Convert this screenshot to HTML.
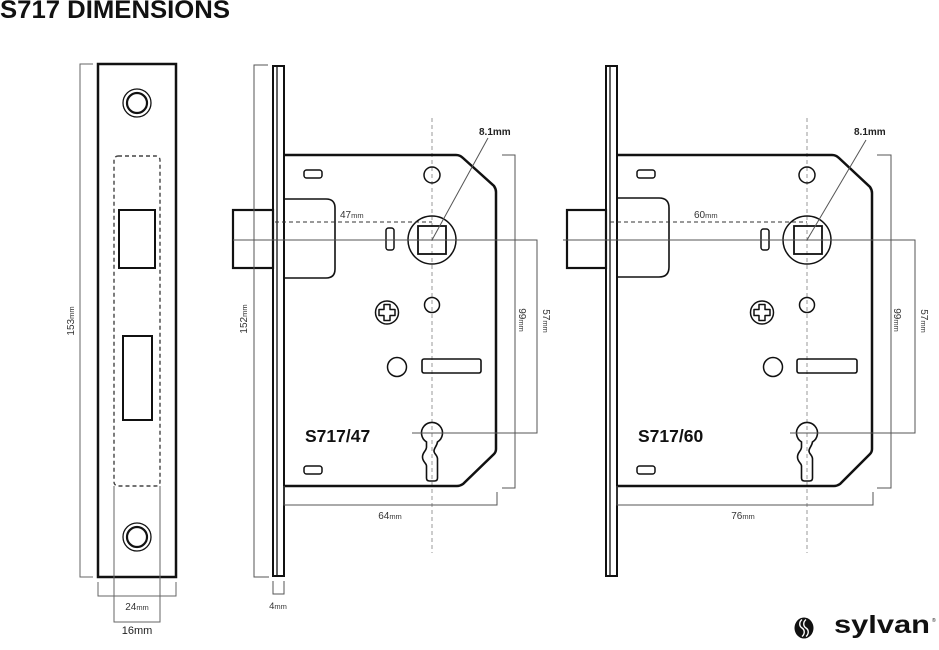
<!DOCTYPE html>
<html><head><meta charset="utf-8"><style>
html,body{margin:0;padding:0;background:#fff;}
svg{display:block;}
text{font-family:"Liberation Sans",Arial,sans-serif;}
</style></head><body>
<svg width="939" height="650" viewBox="0 0 939 650" xmlns="http://www.w3.org/2000/svg">
<rect width="939" height="650" fill="#fff"/>
<text x="0" y="18" font-size="25" font-weight="bold" fill="#111" textLength="230" lengthAdjust="spacingAndGlyphs">S717 DIMENSIONS</text>

<!-- ===== FACEPLATE ===== -->
<g fill="none" stroke="#111">
  <rect x="98" y="64" width="78" height="513" stroke-width="2.5"/>
  <circle cx="137" cy="103" r="14" stroke-width="1.3"/>
  <circle cx="137" cy="103" r="10" stroke-width="2.2"/>
  <circle cx="137" cy="537" r="14" stroke-width="1.3"/>
  <circle cx="137" cy="537" r="10" stroke-width="2.2"/>
  <rect x="114" y="156" width="46" height="330" rx="4" stroke="#444" stroke-width="1.4" stroke-dasharray="4 3"/>
  <rect x="119" y="210" width="36" height="58" stroke-width="2"/>
  <rect x="123" y="336" width="29" height="84" stroke-width="2"/>
</g>
<g fill="none" stroke="#666" stroke-width="1">
  <polyline points="93,64 80,64 80,577 93,577"/>
  <polyline points="98,582 98,596 176,596 176,582"/>
  <polyline points="114,486 114,622 160,622 160,486"/>
</g>
<text transform="translate(74,321) rotate(-90)" text-anchor="middle" font-size="10" fill="#333">153<tspan font-size="7.5">mm</tspan></text>
<text x="137" y="610" text-anchor="middle" font-size="10" fill="#333">24<tspan font-size="7.5">mm</tspan></text>
<text x="137" y="634" text-anchor="middle" font-size="11" fill="#222">16mm</text>

<!-- ===== MIDDLE LOCK S717/47 ===== -->
<line x1="432" y1="118" x2="432" y2="553" stroke="#999" stroke-width="1" stroke-dasharray="4 3"/>
<g fill="none" stroke="#111">
  <rect x="273" y="66" width="11" height="510" stroke-width="2"/>
  <line x1="277" y1="67" x2="277" y2="575" stroke-width="1.3"/>
  <rect x="233" y="210" width="40" height="58" stroke-width="2.2"/>
  <path d="M284,155 L456,155 Q460,155 463,158 L494,186 Q496,189 496,192 L496,449 Q496,452 494,454 L463,484 Q460,486 457,486 L284,486" stroke-width="2.5"/>
  <path d="M284,199 L326,199 Q335,199 335,208 L335,269 Q335,278 326,278 L284,278" stroke-width="1.6"/>
  <rect x="304" y="170" width="18" height="8" rx="2.5" stroke-width="1.5"/>
  <rect x="304" y="466" width="18" height="8" rx="2.5" stroke-width="1.5"/>
  <rect x="386" y="228" width="8" height="22" rx="2.5" stroke-width="1.5"/>
  <circle cx="432" cy="175" r="8" stroke-width="1.5"/>
  <circle cx="432" cy="305" r="7.5" stroke-width="1.5"/>
  <circle cx="432" cy="240" r="24" stroke-width="1.5"/>
  <rect x="418" y="226" width="28" height="28" stroke-width="1.8"/>
  <circle cx="387" cy="312.5" r="11.5" stroke-width="1.5"/>
  <path d="M384,304.5 L390,304.5 L390,309.5 L395,309.5 L395,315.5 L390,315.5 L390,320.5 L384,320.5 L384,315.5 L379,315.5 L379,309.5 L384,309.5 Z" stroke-width="1.5" stroke-linejoin="round"/>
  <circle cx="397" cy="367" r="9.5" stroke-width="1.5"/>
  <rect x="422" y="359" width="59" height="14" rx="2" stroke-width="1.6"/>
  <path d="M426.5,441.9 A10.5,10.5 0 1 1 437.5,441.9 C437,446 434,448 434,451 C434,454 437.5,455 437.5,459 L437.5,478 Q437.5,481 434.5,481 L429.5,481 Q426.5,481 426.5,478 L426.5,466 C426.5,463 422.5,462 422.5,457 C422.5,452 426.5,451 426.5,447 Z" stroke-width="1.6"/>
</g>
<line x1="275" y1="222" x2="432" y2="222" stroke="#333" stroke-width="1" stroke-dasharray="4 3"/>
<g fill="none" stroke="#555" stroke-width="1">
  <polyline points="233,240 537,240 537,433 412,433"/>
  <polyline points="502,155 515,155 515,488 502,488"/>
  <polyline points="284,486 284,505 497,505 497,492"/>
  <polyline points="268,65 254,65 254,577 269,577"/>
  <polyline points="273,581 273,594 284,594 284,581"/>
  <line x1="432" y1="240" x2="488" y2="138"/>
</g>
<text x="340" y="218" font-size="10" fill="#333">47<tspan font-size="7.5">mm</tspan></text>
<text x="479" y="135" font-size="10" font-weight="bold" fill="#222">8.1mm</text>
<text transform="translate(519,320) rotate(90)" text-anchor="middle" font-size="10" fill="#333">99<tspan font-size="7.5">mm</tspan></text>
<text transform="translate(543,321) rotate(90)" text-anchor="middle" font-size="10" fill="#333">57<tspan font-size="7.5">mm</tspan></text>
<text transform="translate(247,319) rotate(-90)" text-anchor="middle" font-size="10" fill="#333">152<tspan font-size="7.5">mm</tspan></text>
<text x="390" y="519" text-anchor="middle" font-size="10" fill="#333">64<tspan font-size="7.5">mm</tspan></text>
<text x="278" y="609" text-anchor="middle" font-size="9.5" fill="#333">4<tspan font-size="7.5">mm</tspan></text>
<text x="305" y="442" font-size="17.5" font-weight="bold" fill="#111">S717/47</text>

<!-- ===== RIGHT LOCK S717/60 ===== -->
<line x1="807" y1="118" x2="807" y2="553" stroke="#999" stroke-width="1" stroke-dasharray="4 3"/>
<g fill="none" stroke="#111">
  <rect x="606" y="66" width="11" height="510" stroke-width="2"/>
  <line x1="610" y1="67" x2="610" y2="575" stroke-width="1.3"/>
  <rect x="567" y="210" width="39" height="58" stroke-width="2.2"/>
  <path d="M617,155 L832,155 Q836,155 839,158 L870,187 Q872,190 872,193 L872,449 Q872,452 870,454 L840,484 Q837,486 834,486 L617,486" stroke-width="2.5"/>
  <path d="M617,198 L659,198 Q669,198 669,208 L669,267 Q669,277 659,277 L617,277" stroke-width="1.6"/>
  <rect x="637" y="170" width="18" height="8" rx="2.5" stroke-width="1.5"/>
  <rect x="637" y="466" width="18" height="8" rx="2.5" stroke-width="1.5"/>
  <rect x="761" y="229" width="8" height="21" rx="2.5" stroke-width="1.5"/>
  <circle cx="807" cy="175" r="8" stroke-width="1.5"/>
  <circle cx="807" cy="305" r="7.5" stroke-width="1.5"/>
  <circle cx="807" cy="240" r="24" stroke-width="1.5"/>
  <rect x="794" y="226" width="28" height="28" stroke-width="1.8"/>
  <circle cx="762" cy="312.5" r="11.5" stroke-width="1.5"/>
  <path d="M759,304.5 L765,304.5 L765,309.5 L770,309.5 L770,315.5 L765,315.5 L765,320.5 L759,320.5 L759,315.5 L754,315.5 L754,309.5 L759,309.5 Z" stroke-width="1.5" stroke-linejoin="round"/>
  <circle cx="773" cy="367" r="9.5" stroke-width="1.5"/>
  <rect x="797" y="359" width="60" height="14" rx="2" stroke-width="1.6"/>
  <path d="M801.5,441.9 A10.5,10.5 0 1 1 812.5,441.9 C812,446 809,448 809,451 C809,454 812.5,455 812.5,459 L812.5,478 Q812.5,481 809.5,481 L804.5,481 Q801.5,481 801.5,478 L801.5,466 C801.5,463 797.5,462 797.5,457 C797.5,452 801.5,451 801.5,447 Z" stroke-width="1.6"/>
</g>
<line x1="610" y1="222" x2="807" y2="222" stroke="#333" stroke-width="1" stroke-dasharray="4 3"/>
<g fill="none" stroke="#555" stroke-width="1">
  <polyline points="563,240 915,240 915,433 790,433"/>
  <polyline points="877,155 891,155 891,488 877,488"/>
  <polyline points="617,486 617,505 873,505 873,492"/>
  <line x1="807" y1="240" x2="866" y2="140"/>
</g>
<text x="694" y="218" font-size="10" fill="#333">60<tspan font-size="7.5">mm</tspan></text>
<text x="854" y="135" font-size="10" font-weight="bold" fill="#222">8.1mm</text>
<text transform="translate(894,320) rotate(90)" text-anchor="middle" font-size="10" fill="#333">99<tspan font-size="7.5">mm</tspan></text>
<text transform="translate(921,321) rotate(90)" text-anchor="middle" font-size="10" fill="#333">57<tspan font-size="7.5">mm</tspan></text>
<text x="743" y="519" text-anchor="middle" font-size="10" fill="#333">76<tspan font-size="7.5">mm</tspan></text>
<text x="638" y="442" font-size="17.5" font-weight="bold" fill="#111">S717/60</text>

<!-- ===== LOGO ===== -->
<ellipse cx="804" cy="628" rx="9.5" ry="10.5" fill="#111"/>
<path d="M802,619.5 C799,622 799,626 802,628 C805,630 805,634 802,636.5" fill="none" stroke="#fff" stroke-width="1.4"/>
<path d="M806,619.5 C803,622 803,626 806,628 C809,630 809,634 806,636.5" fill="none" stroke="#fff" stroke-width="1.4"/>
<text x="834" y="633" font-size="25" font-weight="bold" fill="#111" textLength="96" lengthAdjust="spacingAndGlyphs">sylvan</text>
<text x="932" y="622" font-size="5" fill="#111">®</text>
</svg>
</body></html>
